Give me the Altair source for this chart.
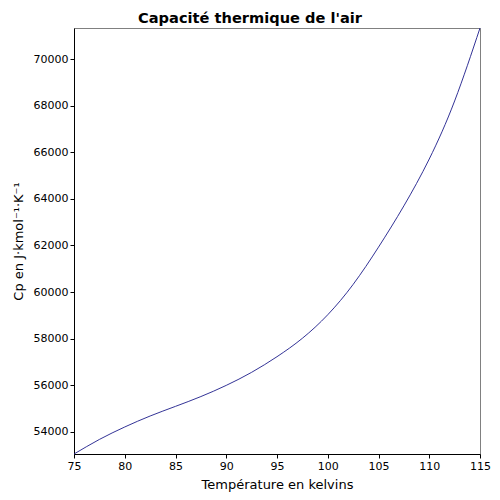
import altair as alt
import pandas as pd

temperature = [75, 77.5, 80, 82.5, 85, 87.5, 90, 92.5, 95, 97.5, 100, 102.5, 105, 107.5, 110, 112.5, 115]
cp = [53056, 53680, 54215, 54686, 55100, 55520, 56000, 56560, 57230, 58020, 59030, 60330, 61930, 63700, 65710, 68200, 71330]

x_ticks = [75, 80, 85, 90, 95, 100, 105, 110, 115]
y_ticks = [54000, 56000, 58000, 60000, 62000, 64000, 66000, 68000, 70000]

df = pd.DataFrame({"T": temperature, "Cp": cp})

FONT = "DejaVu Sans"

chart = alt.Chart(df).mark_line(color="#1c1c8a", strokeWidth=0.9, interpolate="natural").encode(
    x=alt.X("T:Q", scale=alt.Scale(domain=[75, 115], nice=False, zero=False),
            axis=alt.Axis(values=x_ticks, title="Température en kelvins", grid=False,
                          labelFlush=False, format="d")),
    y=alt.Y("Cp:Q", scale=alt.Scale(domain=[53056, 71330], nice=False, zero=False),
            axis=alt.Axis(values=y_ticks, title="Cp en J·kmol⁻¹·K⁻¹", grid=False,
                          labelFlush=False, format="d")),
).properties(
    width=406,
    height=426,
    title=alt.TitleParams("Capacité thermique de l'air", font=FONT, fontSize=14.6,
                          fontWeight="bold", color="black", offset=1, anchor="middle", dx=-27),
    autosize=alt.AutoSizeParams(type="none"),
    padding={"left": 66, "top": 20, "right": 12, "bottom": 38},
).configure_view(
    stroke="#808080", strokeWidth=1
).configure_axis(
    domainColor="black", tickColor="black", labelColor="black", titleColor="black",
    labelFont=FONT, titleFont=FONT, labelFontSize=11, titleFontSize=13,
    titleFontWeight="normal", tickSize=4, labelPadding=2, domainWidth=1,
).configure_axisX(
    titlePadding=7
).configure_axisY(
    titlePadding=8
)

chart.save("out.html", embed_options={"renderer": "svg", "actions": False})
